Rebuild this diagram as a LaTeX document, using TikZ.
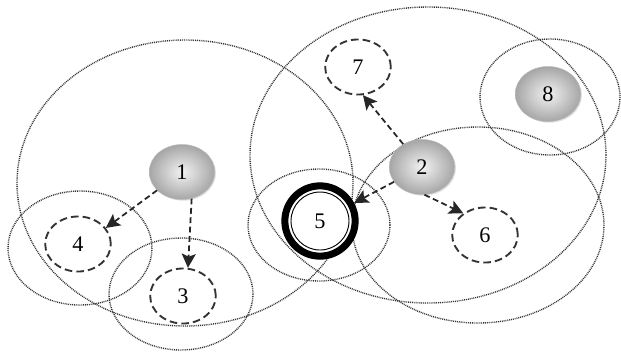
\documentclass[tikz,border=0pt]{standalone}
\usepackage{fontspec}
\setmainfont{Liberation Serif}
\usetikzlibrary{arrows.meta,shapes.geometric,shadows}

\tikzset{
  peer/.style={ellipse, minimum width=56pt, minimum height=47pt, inner sep=0pt,
    draw=gray!55, shading=radial, inner color=gray!10, outer color=gray!70,
    drop shadow={opacity=0.25, shadow xshift=1pt, shadow yshift=-1pt}},
  lost/.style={ellipse, minimum width=56pt, minimum height=47pt, inner sep=0pt,
    draw=black!80, line width=1.6pt, dash pattern=on 6.5pt off 3.5pt},
  radiorange/.style={draw=black!80, line width=1.2pt, dash pattern=on 0.8pt off 0.8pt},
  link/.style={draw=black!85, line width=1.5pt, dash pattern=on 5pt off 3pt,
    -{Stealth[length=12pt,width=12pt,inset=2.5pt]}}
}

\begin{document}
\begin{tikzpicture}[x=0.03cm, y=-0.03cm, font=\fontsize{19}{19}\selectfont]
  \useasboundingbox (0,0) rectangle (621,351);
  % radio ranges
  \draw[radiorange] (185,183) ellipse [x radius=168, y radius=143];
  \draw[radiorange] (428,155) ellipse [x radius=178, y radius=148];
  \draw[radiorange] (478,225) ellipse [x radius=126, y radius=98];
  \draw[radiorange] (80,248) ellipse [x radius=72, y radius=57];
  \draw[radiorange] (181,294) ellipse [x radius=72, y radius=56];
  \draw[radiorange] (319,225) ellipse [x radius=71, y radius=56];
  \draw[radiorange] (550,97) ellipse [x radius=70, y radius=58];
  % nodes
  \node[peer] (n1) at (182,172) {1};
  \node[peer] (n2) at (422,167) {2};
  \node[peer] (n8) at (548,94) {8};
  \node[lost, fill=white] (n4) at (78,244) {4};
  \node[lost, fill=white] (n3) at (183,296) {3};
  \node[lost, fill=white] (n7) at (358,67) {7};
  \node[lost, fill=white] (n6) at (485,235) {6};
  \node[circle, draw, fill=white, line width=6pt, minimum size=60pt, inner sep=0pt] (n5) at (320,221) {5};
  \draw[line width=0.8pt] (n5.center) circle [radius=29];
  % links
  \draw[link] (n1) -- (n4.30);
  \draw[link] (n1.-70) -- (n3.80);
  \draw[link] (n2) -- (n7.-80);
  \draw[link] (n2) -- (n5);
  \draw[link] (n2.-85) -- (n6.135);
\end{tikzpicture}
\end{document}
